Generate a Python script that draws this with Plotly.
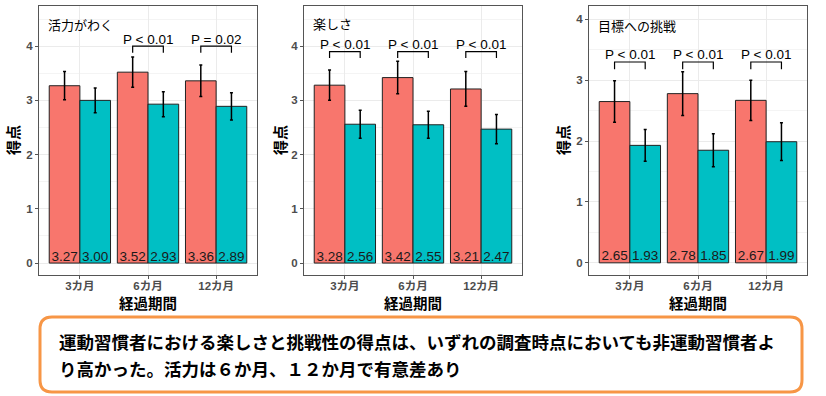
import plotly.graph_objects as go

# ---------------- data ----------------
periods = ["3カ月", "6カ月", "12カ月"]
panel_titles = ["活力がわく", "楽しさ", "目標への挑戦"]
exercisers = [[3.27, 3.52, 3.36], [3.28, 3.42, 3.21], [2.65, 2.78, 2.67]]
exercisers_se = [[0.26, 0.28, 0.29], [0.28, 0.30, 0.32], [0.34, 0.36, 0.33]]
non_exercisers = [[3.00, 2.93, 2.89], [2.56, 2.55, 2.47], [1.93, 1.85, 1.99]]
non_exercisers_se = [[0.23, 0.23, 0.25], [0.26, 0.25, 0.27], [0.26, 0.27, 0.31]]
p_labels = [[None, "P < 0.01", "P = 0.02"],
            ["P < 0.01", "P < 0.01", "P < 0.01"],
            ["P < 0.01", "P < 0.01", "P < 0.01"]]
bracket_y = [4.0, 3.9, 3.3]
y_max = [4.74, 4.74, 4.22]
y_min = [-0.22, -0.22, -0.2]
title_y = [4.39, 4.41, 3.9]
y_ticks = [0, 1, 2, 3, 4]
summary_lines = ["運動習慣者における楽しさと挑戦性の得点は、いずれの調査時点においても非運動習慣者よ",
                 "り高かった。活力は６か月、１２か月で有意差あり"]

# ---------------- style ----------------
W, H = 826, 396
RED, TEAL = "#F8766D", "#00BFC4"
FONT = "Liberation Sans, Arial, Noto Sans CJK JP, sans-serif"
JFONT = "Noto Sans CJK JP, sans-serif"
x_dom_px = [(39, 257), (304, 522), (589, 807)]
y_dom = [(H - 275) / H, (H - 6) / H]
ytitle_px = [13, 280, 563]
bar_w = 0.45
pos = [1, 2, 3]

fig = go.Figure()
annotations = []
shapes = []

for i in range(3):
    xa = "x" if i == 0 else f"x{i+1}"
    ya = "y" if i == 0 else f"y{i+1}"
    fig.add_trace(go.Bar(
        x=pos, y=exercisers[i], width=bar_w, offset=-bar_w,
        marker=dict(color=RED, line=dict(color="#222222", width=1)),
        error_y=dict(type="data", array=exercisers_se[i], color="black", thickness=1.5, width=1.5),
        xaxis=xa, yaxis=ya, showlegend=False, hoverinfo="skip"))
    fig.add_trace(go.Bar(
        x=pos, y=non_exercisers[i], width=bar_w, offset=0,
        marker=dict(color=TEAL, line=dict(color="#222222", width=1)),
        error_y=dict(type="data", array=non_exercisers_se[i], color="black", thickness=1.5, width=1.5),
        xaxis=xa, yaxis=ya, showlegend=False, hoverinfo="skip"))
    # value labels at the bottom of bars
    lx = [p - bar_w / 2 for p in pos] + [p + bar_w / 2 for p in pos]
    lt = [f"{v:.2f}" for v in exercisers[i]] + [f"{v:.2f}" for v in non_exercisers[i]]
    fig.add_trace(go.Scatter(
        x=lx, y=[0.1] * 6, text=lt, mode="text",
        textfont=dict(size=13.5, color="#1a1a1a", family=FONT),
        xaxis=xa, yaxis=ya, showlegend=False, hoverinfo="skip"))
    # significance brackets
    for j, lab in enumerate(p_labels[i]):
        if lab is None:
            continue
        by = bracket_y[i]
        x0, x1 = pos[j] - bar_w / 2, pos[j] + bar_w / 2
        fig.add_trace(go.Scatter(
            x=[x0, x0, x1, x1], y=[by - 0.12, by, by, by - 0.12], mode="lines",
            line=dict(color="black", width=1.2),
            xaxis=xa, yaxis=ya, showlegend=False, hoverinfo="skip"))
        annotations.append(dict(x=pos[j], y=by + 0.13, xref=xa, yref=ya, text=lab,
                                showarrow=False, xanchor="center", yanchor="middle",
                                font=dict(size=13.5, color="black", family=FONT)))
    # panel title
    annotations.append(dict(x=0.03, y=title_y[i], xref=f"{xa} domain", yref=ya, text=panel_titles[i],
                            showarrow=False, xanchor="left", yanchor="middle",
                            font=dict(size=13, color="black", family=JFONT)))
    # axis titles
    xc = (x_dom_px[i][0] + x_dom_px[i][1]) / 2
    annotations.append(dict(x=xc / W, y=(H - 302) / H, xref="paper", yref="paper",
                            text="<b>経過期間</b>", showarrow=False,
                            xanchor="center", yanchor="middle",
                            font=dict(size=14.5, color="black", family=JFONT)))
    annotations.append(dict(x=ytitle_px[i] / W, y=(H - 140) / H, xref="paper", yref="paper",
                            text="<b>得点</b>", showarrow=False, textangle=-90,
                            xanchor="center", yanchor="middle",
                            font=dict(size=15, color="black", family=JFONT)))

    axis_common = dict(showline=True, linecolor="#555555", linewidth=1, mirror=True,
                       ticks="outside", ticklen=3, tickcolor="#555555",
                       showgrid=True, gridcolor="#EBEBEB", gridwidth=1, zeroline=False,
                       tickfont=dict(size=11.5, color="#4D4D4D", family=FONT))
    xname = "xaxis" if i == 0 else f"xaxis{i+1}"
    yname = "yaxis" if i == 0 else f"yaxis{i+1}"
    fig.layout[xname] = dict(domain=[x_dom_px[i][0] / W, x_dom_px[i][1] / W], range=[0.4, 3.6],
                             tickvals=pos, ticktext=[f"<b>{p}</b>" for p in periods],
                             ticklabelstandoff=-3, anchor=ya, **axis_common)
    fig.layout[yname] = dict(domain=list(y_dom), range=[y_min[i], y_max[i]],
                             tickvals=y_ticks, ticktext=[f"<b>{t}</b>" for t in y_ticks],
                             anchor=xa,
                             minor=dict(tickvals=[0.5, 1.5, 2.5, 3.5, 4.5], showgrid=True,
                                        gridcolor="#F4F4F4", gridwidth=0.6),
                             **axis_common)

# summary box (rounded rectangle)
bx0, bx1 = 40 / W, 802 / W
by_top, by_bot = (H - 317) / H, (H - 392) / H
rx, ry = 12 / W, 12 / H
path = (f"M {bx0+rx},{by_bot} L {bx1-rx},{by_bot} Q {bx1},{by_bot} {bx1},{by_bot+ry} "
        f"L {bx1},{by_top-ry} Q {bx1},{by_top} {bx1-rx},{by_top} "
        f"L {bx0+rx},{by_top} Q {bx0},{by_top} {bx0},{by_top-ry} "
        f"L {bx0},{by_bot+ry} Q {bx0},{by_bot} {bx0+rx},{by_bot} Z")
shapes.append(dict(type="path", path=path, xref="paper", yref="paper",
                   line=dict(color="#F79646", width=3), fillcolor="white"))
for k, line in enumerate(summary_lines):
    annotations.append(dict(x=57 / W, y=(H - (341 + 27 * k)) / H, xref="paper", yref="paper",
                            text=f"<b>{line}</b>", showarrow=False, xanchor="left", yanchor="middle",
                            font=dict(size=17.5, color="black", family=JFONT)))

fig.update_layout(width=W, height=H, margin=dict(l=0, r=0, t=0, b=0),
                  paper_bgcolor="white", plot_bgcolor="white",
                  barmode="overlay", annotations=annotations, shapes=shapes)
fig.write_html("out.html", config={"displayModeBar": False},
               post_script="document.body.style.margin='0';")
